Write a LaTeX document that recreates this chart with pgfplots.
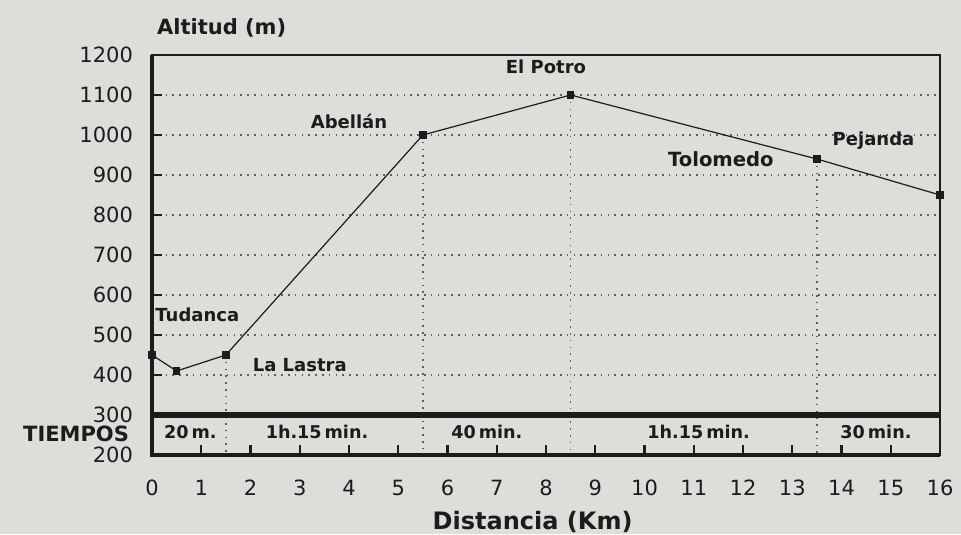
\documentclass[border=0pt]{standalone}
\usepackage{pgfplots}
\pgfplotsset{compat=1.18}
\usepackage{fontspec}
\setmainfont{DejaVu Sans}
\definecolor{paper}{RGB}{221,221,217}
\definecolor{ink}{RGB}{28,28,28}
\definecolor{dots}{RGB}{95,95,95}

\begin{document}
\begin{tikzpicture}
% page / paper
\fill[paper] (-76pt,-39.5pt) rectangle (404.5pt,227.5pt);
\path[use as bounding box] (-76pt,-39.5pt) rectangle (404.5pt,227.5pt);
\begin{axis}[
  at={(0,0)}, anchor=south west,
  scale only axis, width=394pt, height=200pt,
  xmin=0, xmax=16, ymin=200, ymax=1200,
  xtick={0,1,...,16}, ytick={200,300,...,1200},
  tick align=inside, xtick pos=bottom, ytick pos=left,
  major tick length=5pt,
  tick style={ink, line width=1.2pt},
  axis line style={ink, line width=0.9pt},
  ymajorgrids=true,
  grid style={dots, line width=0.8pt, dash pattern=on 0.8pt off 2.6pt},
  /pgf/number format/assume math mode=true,
  /pgf/number format/1000 sep={},
  ticklabel style={font=\fontsize{10.5}{12}\selectfont, text=ink},
  yticklabel style={xshift=-6pt},
  xticklabel style={yshift=-9pt},
  clip=false,
]
% vertical guide lines at the stops
\draw[dots, line width=0.8pt, dash pattern=on 0.8pt off 2.6pt] (axis cs:1.5,450) -- (axis cs:1.5,200);
\draw[dots, line width=0.8pt, dash pattern=on 0.8pt off 2.6pt] (axis cs:5.5,1000) -- (axis cs:5.5,200);
\draw[dots, line width=0.8pt, dash pattern=on 0.8pt off 2.6pt] (axis cs:8.5,1100) -- (axis cs:8.5,200);
\draw[dots, line width=0.8pt, dash pattern=on 0.8pt off 2.6pt] (axis cs:13.5,940) -- (axis cs:13.5,200);

% heavy frame lines
\draw[ink, line width=1.6pt] (axis cs:0,1200) -- (axis cs:0,200) -- (axis cs:16,200);
\draw[ink, line width=3pt] (axis cs:0,300) -- (axis cs:16,300);

\addplot[ink, line width=0.6pt, mark=square*, mark size=1.6pt,
  mark options={solid, fill=ink}]
  coordinates {
    (0,450) (0.5,410) (1.5,450) (5.5,1000) (8.5,1100) (13.5,940) (16,850)
  };

% place names
\begin{scope}[font=\fontsize{9}{11}\selectfont\bfseries, text=ink]
\node[anchor=west, inner sep=1pt] at (axis cs:0.02,550) {Tudanca};
\node at (axis cs:3.0,425) {La Lastra};
\node at (axis cs:4.0,1035) {Abellán};
\node at (axis cs:8.0,1170) {El Potro};
\node[font=\fontsize{9.8}{11}\selectfont\bfseries] at (axis cs:11.55,940) {Tolomedo};
\node at (axis cs:14.65,985) {Pejanda};
\end{scope}

% walking times
\begin{scope}[font=\fontsize{8.8}{10}\selectfont\bfseries, text=ink]
\node at (axis cs:0.78,257) {20\,m.};
\node at (axis cs:3.35,257) {1h.15\,min.};
\node at (axis cs:6.8,257) {40\,min.};
\node at (axis cs:11.1,257) {1h.15\,min.};
\node at (axis cs:14.7,257) {30\,min.};
\end{scope}

\node[anchor=east, font=\fontsize{10.5}{12}\selectfont\bfseries, text=ink,
  xshift=-8pt] at (axis cs:0,253) {TIEMPOS};
\node[anchor=west, font=\fontsize{10.5}{12}\selectfont\bfseries, text=ink,
  xshift=-1pt, yshift=13.5pt] at (rel axis cs:0,1) {Altitud (m)};
\node[font=\fontsize{12}{14}\selectfont\bfseries, text=ink, yshift=-33.5pt]
  at (rel axis cs:0.483,0) {Distancia (Km)};
\end{axis}
\end{tikzpicture}
\end{document}
